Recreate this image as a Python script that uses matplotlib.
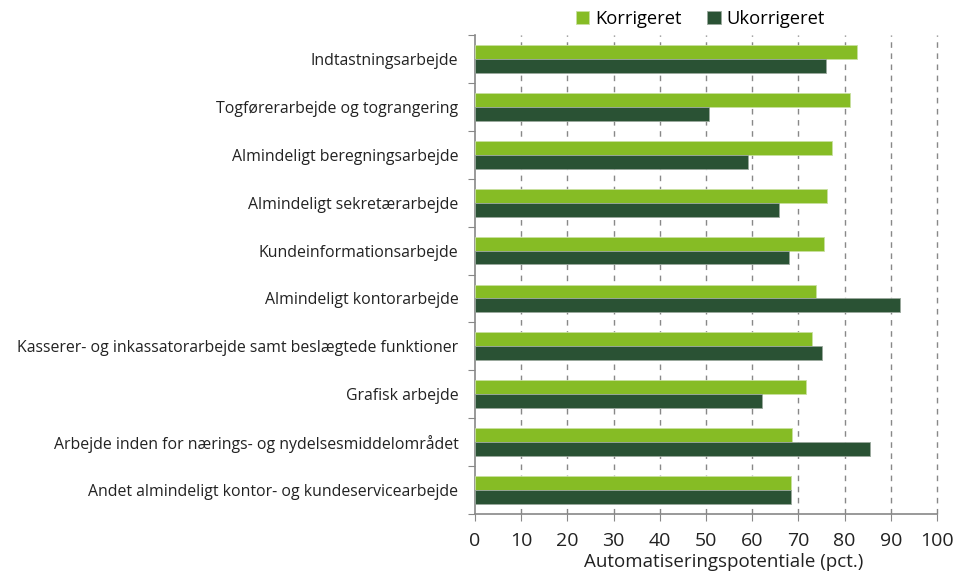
import numpy as np
import matplotlib
matplotlib.use("Agg")
import matplotlib.pyplot as plt

plt.rcParams['font.family'] = ['Open Sans', 'DejaVu Sans']

kategorier = [
    "Indtastningsarbejde",
    "Togførerarbejde og tograngering",
    "Almindeligt beregningsarbejde",
    "Almindeligt sekretærarbejde",
    "Kundeinformationsarbejde",
    "Almindeligt kontorarbejde",
    "Kasserer- og inkassatorarbejde samt beslægtede funktioner",
    "Grafisk arbejde",
    "Arbejde inden for nærings- og nydelsesmiddelområdet",
    "Andet almindeligt kontor- og kundeservicearbejde",
]
korrigeret = [82.6, 81.2, 77.3, 76.1, 75.5, 73.9, 73.0, 71.7, 68.7, 68.3]
ukorrigeret = [75.9, 50.6, 59.1, 65.8, 67.9, 92.0, 75.2, 62.1, 85.5, 68.3]
xticks = list(range(0, 101, 10))

GROEN = "#86bc25"
MOERK = "#2a5234"

fig = plt.figure(figsize=(9.63, 5.71), dpi=100)
ax = fig.add_axes([0.4933, 0.0998, 0.4797, 0.8389])

y = np.arange(len(kategorier))
h = 0.29
ax.barh(y - h / 2, korrigeret, height=h, color=GROEN, edgecolor="#c8e0a0",
        linewidth=0.6, label="Korrigeret", zorder=3)
ax.barh(y + h / 2, ukorrigeret, height=h, color=MOERK, edgecolor="#9aa89d",
        linewidth=0.6, label="Ukorrigeret", zorder=3)

ax.set_ylim(len(kategorier) - 0.5, -0.5)
ax.set_yticks(np.arange(len(kategorier) + 1) - 0.5)
ax.set_yticklabels([])
ax.set_yticks(y, minor=True)
ax.set_yticklabels(kategorier, minor=True, fontsize=11.4, color="#222222")
ax.tick_params(axis="y", which="minor", length=0, pad=12)
ax.tick_params(axis="y", which="major", length=5, color="#888888")

ax.set_xlim(0, 100)
ax.set_xticks(xticks)
ax.set_xticklabels([str(v) for v in xticks], fontsize=14, color="#222222")
ax.tick_params(axis="x", length=5, color="#888888", pad=8)
for v in xticks[1:]:
    ax.axvline(v, linestyle=(0, (4, 4)), color="#888888", linewidth=1,
               zorder=0, clip_on=False)
ax.set_xlabel("Automatiseringspotentiale (pct.)", fontsize=13.5, color="#222222")
ax.xaxis.set_label_coords(0.539, -0.082)

for s in ["top", "right"]:
    ax.spines[s].set_visible(False)
for s in ["left", "bottom"]:
    ax.spines[s].set_color("#888888")
    ax.spines[s].set_linewidth(1.2)

fig.legend(loc="center", bbox_to_anchor=(0.727, 0.967), ncol=2, frameon=False,
           fontsize=13.2, handlelength=0.75, handleheight=0.75, handletextpad=0.3,
           columnspacing=1.4)

fig.savefig("out.png", dpi=100)
